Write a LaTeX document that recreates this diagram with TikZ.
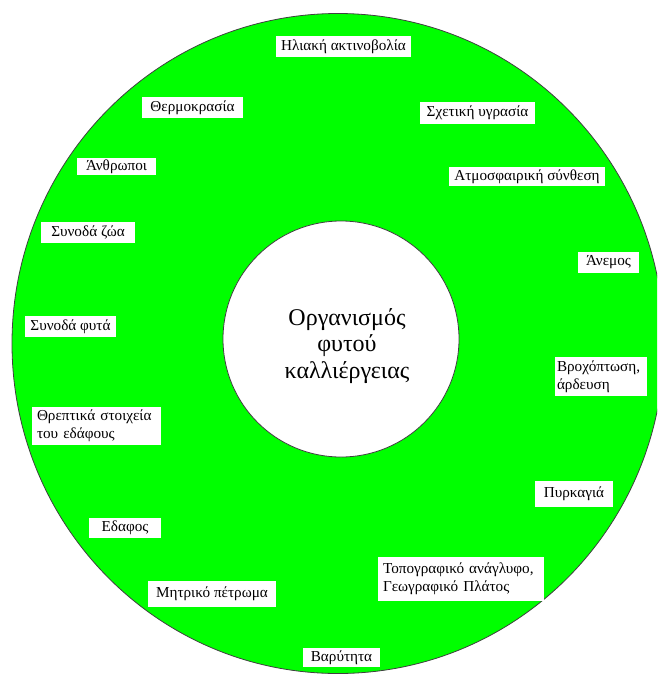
\documentclass[tikz,border=0pt]{standalone}
\usepackage{fontspec}
\setmainfont{Liberation Serif}
\definecolor{leaf}{RGB}{0,255,0}
\begin{document}
\begin{tikzpicture}[x=1pt,y=-1pt,
  lbl/.style={fill=white, inner sep=0pt, font=\fontsize{15.2}{18}\selectfont, anchor=center},
  lblm/.style={lbl, align=left},
  ring/.style={fill=leaf, draw=black!75, line width=0.8pt},
  hole/.style={fill=white, draw=black!75, line width=0.8pt}
]
\useasboundingbox (0,0) rectangle (657,675);
\begin{scope}
  \clip (0,0) rectangle (657,675);
  \path[ring] (338,343.5) ellipse [x radius=326, y radius=330];
\end{scope}
\path[hole] (341,339) circle [radius=118];
\node[font=\fontsize{24}{26.5}\selectfont, align=center] (org) at (347,346) {Οργανισμός\\φυτού\\καλλιέργειας};

\node[lbl, minimum width=135, minimum height=21] (sun) at (343.5,46.5) {Ηλιακή ακτινοβολία};
\node[lbl, minimum width=101, minimum height=21] (therm) at (192.5,107.5) {Θερμοκρασία};
\node[lbl, minimum width=79, minimum height=17] (anth) at (116.5,166.5) {Άνθρωποι};
\node[lbl, minimum width=94, minimum height=21] (zoa) at (88,232.5) {Συνοδά ζώα};
\node[lbl, minimum width=91, minimum height=21] (fyta) at (70.5,326.5) {Συνοδά φυτά};
\node[lbl, minimum width=115, minimum height=22] (hygr) at (477.5,113) {Σχετική υγρασία};
\node[lbl, minimum width=156, minimum height=19] (atm) at (527,176.5) {Ατμοσφαιρική σύνθεση};
\node[lbl, minimum width=61, minimum height=21] (anem) at (608.5,262.5) {Άνεμος};
\node[lblm, text width=119, inner xsep=5, minimum height=38] (threp) at (96.5,426) {Θρεπτικά στοιχεία\\του εδάφους};
\node[lbl, minimum width=72, minimum height=20] (edaf) at (125,528) {Εδαφος};
\node[lbl, minimum width=128, minimum height=26] (mitr) at (212,594) {Μητρικό πέτρωμα};
\node[lbl, minimum width=77, minimum height=19] (var) at (341.5,657.5) {Βαρύτητα};
\node[lblm, text width=88, inner xsep=2, minimum height=39] (vroch) at (601,376.5) {Βροχόπτωση,\\άρδευση};
\node[lbl, minimum width=78, minimum height=26] (pyrk) at (574,494) {Πυρκαγιά};
\node[lblm, text width=156, inner xsep=5, minimum height=44] (topo) at (461,579) {Τοπογραφικό ανάγλυφο,\\Γεωγραφικό Πλάτος};
\end{tikzpicture}
\end{document}
